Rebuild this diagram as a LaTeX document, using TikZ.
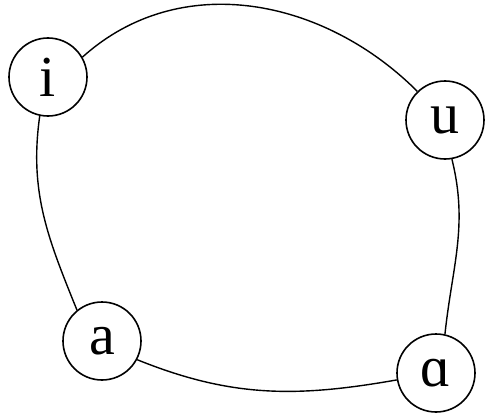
\documentclass[tikz,border=0pt]{standalone}
\usepackage{fontspec}
\setmainfont{Liberation Serif}
\begin{document}
\begin{tikzpicture}[x=1pt,y=-1pt,
  vowel/.style={circle,draw,line width=1.6pt,minimum size=78pt,inner sep=0pt,font=\fontsize{58}{60}\selectfont},
  link/.style={line width=1.4pt}]
\useasboundingbox (0,0) rectangle (485,415);
\node[vowel] (i) at (48,77) {i};
\node[vowel] (u) at (445,120) {u};
\node[vowel] (a) at (102,341) {a};
\node[vowel] (al) at (436,373) {ɑ};
\draw[link] (i.30) to[out=42,in=135] (u.134);
\draw[link] (i.258) to[out=262,in=112] (a.129);
\draw[link] (a.-28) to[out=-22,in=190] (al.190);
\draw[link] (u.-80) to[out=-76,in=84] (al.77);
\end{tikzpicture}
\end{document}
